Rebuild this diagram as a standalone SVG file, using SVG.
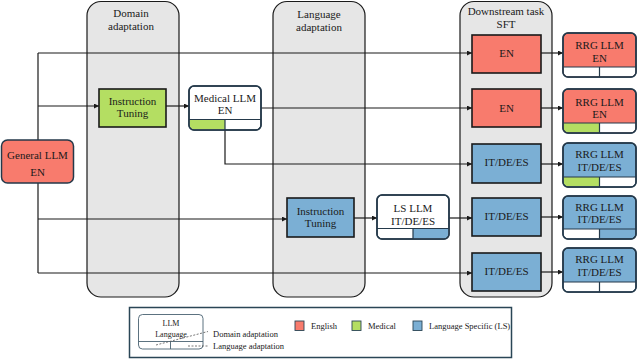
<svg xmlns="http://www.w3.org/2000/svg" width="640" height="360" viewBox="0 0 640 360">
<defs>
<marker id="ah" viewBox="0 0 6 6" refX="6" refY="3" markerWidth="5" markerHeight="5" markerUnits="userSpaceOnUse" orient="auto">
<path d="M0,0 L6,3 L0,6 Z" fill="#1a1a1a"/>
</marker>
<style>
text{font-family:"Liberation Serif","Times New Roman",serif;fill:#1a1a1a;text-anchor:middle}
.t{font-size:11px}
.lg{font-size:8.5px;text-anchor:start}
.col{fill:#e6e6e6;stroke:#1a1a1a;stroke-width:1.2}
.proc{stroke:#1a1a1a;stroke-width:1.6}
.model{stroke:#24394a;stroke-width:1.5}
.strip{stroke:#24394a;stroke-width:1.2}
.en{fill:#f87b6d}
.med{fill:#b4de62}
.ls{fill:#7bafd4}
.wh{fill:#ffffff}
.ln{fill:none;stroke:#1a1a1a;stroke-width:1.2}
.arr{marker-end:url(#ah)}
.dash{fill:none;stroke:#555;stroke-width:0.8;stroke-dasharray:2,1.5}
</style>
</defs>

<g id="columns">
<g id="col-domain">
<rect class="col" x="87" y="1.5" width="92" height="295.5" rx="14"/>
<text class="t" x="131" y="17">Domain</text>
<text class="t" x="131" y="30">adaptation</text>
</g>
<g id="col-language">
<rect class="col" x="273" y="1.5" width="92" height="295.5" rx="14"/>
<text class="t" x="319" y="18">Language</text>
<text class="t" x="319" y="31">adaptation</text>
</g>
<g id="col-sft">
<rect class="col" x="460" y="1.5" width="92" height="295.5" rx="14"/>
<text class="t" x="506" y="15">Downstream task</text>
<text class="t" x="506" y="28">SFT</text>
</g>
</g>

<g id="connectors">
<path class="ln" d="M38,53 L38,273"/>
<path class="ln arr" d="M38,53 L472,53"/>
<path class="ln arr" d="M38,106 L99,106"/>
<path class="ln arr" d="M38,219 L287,219"/>
<path class="ln arr" d="M38,273 L472,273"/>
<path class="ln arr" d="M166,106 L189,106"/>
<path class="ln arr" d="M261,108 L472,108"/>
<path class="ln arr" d="M225,130 L225,164 L472,164"/>
<path class="ln arr" d="M354,218 L377,218"/>
<path class="ln arr" d="M449,218 L472,218"/>
<path class="ln arr" d="M541,53 L563,53"/>
<path class="ln arr" d="M541,108 L563,108"/>
<path class="ln arr" d="M541,164 L563,164"/>
<path class="ln arr" d="M541,217 L563,217"/>
<path class="ln arr" d="M541,272 L563,272"/>
</g>

<g id="general-llm">
<rect class="model en" x="1.5" y="140" width="72" height="43" rx="6"/>
<text class="t" x="37.5" y="159">General LLM</text>
<text class="t" x="37.5" y="176">EN</text>
</g>

<g id="it-medical">
<rect class="proc med" x="99" y="89" width="67" height="38"/>
<text class="t" x="132.5" y="105">Instruction</text>
<text class="t" x="132.5" y="117">Tuning</text>
</g>

<g id="medical-llm">
<rect class="model wh" x="189" y="86" width="72" height="44" rx="5"/>
<path class="med" d="M189.75,119.5 H225 V129.25 H194 A4.25,4.25 0 0 1 189.75,125 Z"/>
<path class="strip" d="M189,119.5 H261 M225,119.5 V130"/>
<rect class="model" x="189" y="86" width="72" height="44" rx="5" fill="none"/>
<text class="t" x="225" y="102">Medical LLM</text>
<text class="t" x="225" y="114">EN</text>
</g>

<g id="it-ls">
<rect class="proc ls" x="287" y="198" width="67" height="39"/>
<text class="t" x="320.5" y="215">Instruction</text>
<text class="t" x="320.5" y="227">Tuning</text>
</g>

<g id="ls-llm">
<rect class="model wh" x="377" y="195" width="72" height="44" rx="5"/>
<path class="ls" d="M413,228.5 H448.25 V234 A4.25,4.25 0 0 1 444,238.25 H413 Z"/>
<path class="strip" d="M377,228.5 H449 M413,228.5 V239"/>
<rect class="model" x="377" y="195" width="72" height="44" rx="5" fill="none"/>
<text class="t" x="413" y="212">LS LLM</text>
<text class="t" x="413" y="225">IT/DE/ES</text>
</g>

<g id="sft-en-1">
<rect class="proc en" x="472" y="35" width="69" height="38"/>
<text class="t" x="506.5" y="57">EN</text>
</g>
<g id="sft-en-2">
<rect class="proc en" x="472" y="89" width="69" height="38"/>
<text class="t" x="506.5" y="112">EN</text>
</g>
<g id="sft-ls-1">
<rect class="proc ls" x="472" y="144" width="69" height="39"/>
<text class="t" x="506.5" y="166">IT/DE/ES</text>
</g>
<g id="sft-ls-2">
<rect class="proc ls" x="472" y="198" width="69" height="38"/>
<text class="t" x="506.5" y="220">IT/DE/ES</text>
</g>
<g id="sft-ls-3">
<rect class="proc ls" x="472" y="253" width="69" height="38"/>
<text class="t" x="506.5" y="275">IT/DE/ES</text>
</g>

<g id="rrg-1">
<rect class="model en" x="563" y="33" width="73" height="44" rx="5"/>
<path class="wh" d="M563.75,67 H635.25 V72 A4.25,4.25 0 0 1 631,76.25 H568 A4.25,4.25 0 0 1 563.75,72 Z"/>
<path class="strip" d="M563,67 H636 M599.5,67 V77"/>
<rect class="model" x="563" y="33" width="73" height="44" rx="5" fill="none"/>
<text class="t" x="599.5" y="49">RRG LLM</text>
<text class="t" x="599.5" y="62">EN</text>
</g>
<g id="rrg-2">
<rect class="model en" x="563" y="89" width="73" height="44" rx="5"/>
<path class="wh" d="M599.5,123 H635.25 V128 A4.25,4.25 0 0 1 631,132.25 H599.5 Z"/>
<path class="med" d="M563.75,123 H599.5 V132.25 H568 A4.25,4.25 0 0 1 563.75,128 Z"/>
<path class="strip" d="M563,123 H636 M599.5,123 V133"/>
<rect class="model" x="563" y="89" width="73" height="44" rx="5" fill="none"/>
<text class="t" x="599.5" y="106">RRG LLM</text>
<text class="t" x="599.5" y="118">EN</text>
</g>
<g id="rrg-3">
<rect class="model ls" x="563" y="143" width="73" height="44" rx="5"/>
<path class="wh" d="M599.5,177 H635.25 V182 A4.25,4.25 0 0 1 631,186.25 H599.5 Z"/>
<path class="med" d="M563.75,177 H599.5 V186.25 H568 A4.25,4.25 0 0 1 563.75,182 Z"/>
<path class="strip" d="M563,177 H636 M599.5,177 V187"/>
<rect class="model" x="563" y="143" width="73" height="44" rx="5" fill="none"/>
<text class="t" x="599.5" y="158">RRG LLM</text>
<text class="t" x="599.5" y="171">IT/DE/ES</text>
</g>
<g id="rrg-4">
<rect class="model ls" x="563" y="196" width="73" height="43" rx="5"/>
<path class="wh" d="M563.75,229 H599.5 V238.25 H568 A4.25,4.25 0 0 1 563.75,234 Z"/>
<path class="strip" d="M563,229 H636 M599.5,229 V239"/>
<rect class="model" x="563" y="196" width="73" height="43" rx="5" fill="none"/>
<text class="t" x="599.5" y="211">RRG LLM</text>
<text class="t" x="599.5" y="223">IT/DE/ES</text>
</g>
<g id="rrg-5">
<rect class="model ls" x="563" y="248" width="73" height="44" rx="5"/>
<path class="wh" d="M563.75,282 H635.25 V287 A4.25,4.25 0 0 1 631,291.25 H568 A4.25,4.25 0 0 1 563.75,287 Z"/>
<path class="strip" d="M563,282 H636 M599.5,282 V292"/>
<rect class="model" x="563" y="248" width="73" height="44" rx="5" fill="none"/>
<text class="t" x="599.5" y="263">RRG LLM</text>
<text class="t" x="599.5" y="276">IT/DE/ES</text>
</g>

<g id="legend">
<rect x="129.5" y="307.5" width="382" height="50" fill="#ffffff" stroke="#2a4656" stroke-width="1.5"/>
<rect x="138.5" y="314.5" width="64.5" height="34.5" rx="4" fill="#ffffff" stroke="#4a6272" stroke-width="0.9"/>
<path d="M138.5,341.5 H203 M170.5,341.5 V349" stroke="#4a6272" stroke-width="0.9" fill="none"/>
<text x="171" y="326" style="font-size:8px">LLM</text>
<text x="171" y="337" style="font-size:8px">Language</text>
<path class="dash" d="M156,345 L208,331.5"/>
<path class="dash" d="M188,346 L209,346"/>
<text class="lg" x="213" y="337">Domain adaptation</text>
<text class="lg" x="213" y="349">Language adaptation</text>
<rect x="295" y="321" width="9" height="9.5" fill="#f87b6d" stroke="#2a4656" stroke-width="0.9"/>
<text class="lg" x="311" y="329">English</text>
<rect x="352" y="321" width="9" height="9.5" fill="#b4de62" stroke="#2a4656" stroke-width="0.9"/>
<text class="lg" x="368" y="329">Medical</text>
<rect x="413" y="321" width="9" height="9.5" fill="#7bafd4" stroke="#2a4656" stroke-width="0.9"/>
<text class="lg" x="429" y="329">Language Specific (LS)</text>
</g>
</svg>
